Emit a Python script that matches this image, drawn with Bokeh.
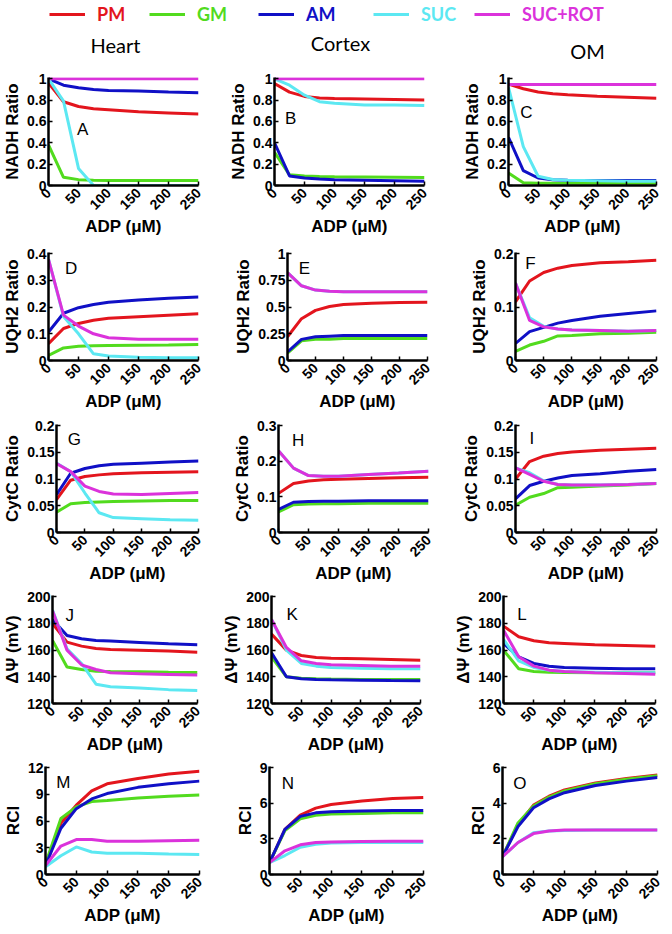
import math
from bokeh.plotting import figure
from bokeh.models import (FixedTicker, CustomJSTickFormatter, Range1d, Legend,
                          LegendItem, Label, ColumnDataSource)
from bokeh.layouts import column, row
from bokeh.embed import file_html
from bokeh.resources import INLINE

# ---------------- data ----------------
adp = [0, 25, 50, 75, 100, 150, 200, 250]
series = ["PM", "GM", "AM", "SUC", "SUC+ROT"]
colors = ["#E3151D", "#52DB1E", "#1010C6", "#5CE8F2", "#DB32DB"]
tissues = ["Heart", "Cortex", "OM"]
quantities = ["NADH Ratio", "UQH2 Ratio", "CytC Ratio", "ΔΨ (mV)", "RCI"]
letters = list("ABCDEFGHIJKLMNO")
x_ticks = [0, 50, 100, 150, 200, 250]

nadh_heart = {
    "PM":      [0.96, 0.785, 0.74, 0.72, 0.71, 0.69, 0.68, 0.67],
    "GM":      [0.38, 0.077, 0.055, 0.05, 0.048, 0.047, 0.047, 0.047],
    "AM":      [1.0, 0.94, 0.915, 0.90, 0.89, 0.885, 0.877, 0.87],
    "SUC":     [1.0, 0.79, 0.16, 0.0, 0.0, 0.0, 0.0, 0.0],
    "SUC+ROT": [1.0, 1.0, 1.0, 1.0, 1.0, 1.0, 1.0, 1.0],
}
nadh_cortex = {
    "PM":      [0.955, 0.875, 0.835, 0.82, 0.815, 0.81, 0.805, 0.80],
    "GM":      [0.31, 0.10, 0.09, 0.085, 0.082, 0.08, 0.078, 0.076],
    "AM":      [0.40, 0.09, 0.07, 0.06, 0.055, 0.05, 0.045, 0.04],
    "SUC":     [1.0, 0.94, 0.846, 0.785, 0.77, 0.755, 0.755, 0.75],
    "SUC+ROT": [1.0, 1.0, 1.0, 1.0, 1.0, 1.0, 1.0, 1.0],
}
nadh_om = {
    "PM":      [0.95, 0.907, 0.876, 0.86, 0.85, 0.836, 0.827, 0.817],
    "GM":      [0.118, 0.025, 0.02, 0.02, 0.02, 0.02, 0.02, 0.02],
    "AM":      [0.452, 0.14, 0.07, 0.053, 0.05, 0.048, 0.047, 0.046],
    "SUC":     [0.92, 0.365, 0.087, 0.056, 0.05, 0.045, 0.04, 0.04],
    "SUC+ROT": [0.947, 0.947, 0.947, 0.947, 0.947, 0.947, 0.947, 0.947],
}
uqh2_heart = {
    "PM":      [0.063, 0.12, 0.139, 0.151, 0.158, 0.164, 0.17, 0.175],
    "GM":      [0.019, 0.047, 0.053, 0.055, 0.056, 0.057, 0.058, 0.06],
    "AM":      [0.107, 0.177, 0.198, 0.21, 0.218, 0.227, 0.233, 0.238],
    "SUC":     [0.38, 0.165, 0.10, 0.025, 0.017, 0.012, 0.01, 0.01],
    "SUC+ROT": [0.379, 0.17, 0.129, 0.10, 0.085, 0.08, 0.08, 0.08],
}
uqh2_cortex = {
    "PM":      [0.222, 0.392, 0.47, 0.506, 0.525, 0.537, 0.543, 0.546],
    "GM":      [0.07, 0.185, 0.198, 0.20, 0.205, 0.205, 0.205, 0.205],
    "AM":      [0.08, 0.198, 0.222, 0.228, 0.234, 0.234, 0.234, 0.234],
    "SUC":     [0.824, 0.70, 0.66, 0.648, 0.645, 0.645, 0.645, 0.645],
    "SUC+ROT": [0.824, 0.70, 0.66, 0.648, 0.645, 0.645, 0.645, 0.645],
}
uqh2_om = {
    "PM":      [0.11, 0.149, 0.165, 0.173, 0.178, 0.183, 0.185, 0.188],
    "GM":      [0.017, 0.029, 0.036, 0.046, 0.047, 0.05, 0.051, 0.053],
    "AM":      [0.032, 0.054, 0.062, 0.07, 0.075, 0.083, 0.088, 0.093],
    "SUC":     [0.145, 0.08, 0.064, 0.059, 0.057, 0.056, 0.055, 0.056],
    "SUC+ROT": [0.145, 0.075, 0.063, 0.059, 0.057, 0.056, 0.055, 0.056],
}
cytc_heart = {
    "PM":      [0.0615, 0.098, 0.105, 0.108, 0.11, 0.112, 0.113, 0.114],
    "GM":      [0.038, 0.054, 0.056, 0.057, 0.058, 0.059, 0.06, 0.06],
    "AM":      [0.071, 0.111, 0.12, 0.125, 0.128, 0.13, 0.132, 0.134],
    "SUC":     [0.13, 0.114, 0.074, 0.037, 0.028, 0.026, 0.024, 0.023],
    "SUC+ROT": [0.129, 0.114, 0.087, 0.077, 0.072, 0.071, 0.073, 0.075],
}
cytc_cortex = {
    "PM":      [0.11, 0.138, 0.145, 0.148, 0.15, 0.152, 0.154, 0.155],
    "GM":      [0.058, 0.078, 0.08, 0.081, 0.081, 0.082, 0.082, 0.082],
    "AM":      [0.065, 0.085, 0.087, 0.088, 0.088, 0.089, 0.089, 0.089],
    "SUC":     [0.23, 0.181, 0.16, 0.158, 0.158, 0.163, 0.167, 0.172],
    "SUC+ROT": [0.23, 0.181, 0.16, 0.158, 0.158, 0.163, 0.167, 0.172],
}
cytc_om = {
    "PM":      [0.10, 0.133, 0.143, 0.148, 0.151, 0.154, 0.156, 0.158],
    "GM":      [0.051, 0.066, 0.073, 0.084, 0.085, 0.087, 0.089, 0.092],
    "AM":      [0.063, 0.088, 0.096, 0.102, 0.107, 0.11, 0.115, 0.118],
    "SUC":     [0.121, 0.112, 0.097, 0.09, 0.089, 0.089, 0.09, 0.092],
    "SUC+ROT": [0.121, 0.109, 0.096, 0.09, 0.089, 0.089, 0.09, 0.092],
}
psi_heart = {
    "PM":      [180, 166, 163, 161.2, 160.5, 160, 159.3, 158.5],
    "GM":      [167.3, 147.4, 145.5, 144.2, 144, 143.8, 143.5, 143.3],
    "AM":      [183, 171, 168.5, 167.3, 166.8, 165.8, 164.8, 164],
    "SUC":     [190, 161, 150, 134.5, 132.6, 131.6, 130.4, 129.7],
    "SUC+ROT": [189.6, 160, 149, 145.5, 143, 142.3, 141.8, 141.3],
}
psi_cortex = {
    "PM":      [172, 160, 156, 154.5, 154, 153.5, 153, 152.5],
    "GM":      [155, 140, 139, 138.5, 138.3, 138, 138, 138],
    "AM":      [158, 140, 138.5, 138, 137.8, 137.5, 137.2, 137],
    "SUC":     [183, 160, 150, 148, 147, 146.5, 146, 146],
    "SUC+ROT": [183, 162, 152, 150, 149, 148.5, 148, 148],
}
psi_om = {
    "PM":      [178, 170, 167, 165.5, 165, 164, 163.5, 163],
    "GM":      [160, 146, 144, 143.5, 143.3, 143, 143, 143],
    "AM":      [165, 155, 150, 148, 147, 146.5, 146, 146],
    "SUC":     [168, 152, 147, 145, 144, 143.5, 143, 143],
    "SUC+ROT": [175, 155, 148, 145, 144, 143, 142.5, 142],
}
rci_heart = {
    "PM":      [0.99, 5.76, 7.8, 9.4, 10.2, 10.8, 11.3, 11.6],
    "GM":      [1.2, 6.3, 7.6, 8.2, 8.33, 8.6, 8.8, 8.95],
    "AM":      [1.0, 5.2, 7.4, 8.5, 9.1, 9.8, 10.2, 10.5],
    "SUC":     [0.88, 2.1, 3.1, 2.53, 2.4, 2.4, 2.3, 2.24],
    "SUC+ROT": [1.0, 3.2, 3.93, 3.93, 3.74, 3.74, 3.8, 3.85],
}
rci_cortex = {
    "PM":      [1.0, 3.8, 5.0, 5.6, 5.9, 6.2, 6.4, 6.5],
    "GM":      [1.0, 3.7, 4.7, 5.0, 5.1, 5.15, 5.2, 5.2],
    "AM":      [1.0, 3.8, 4.9, 5.2, 5.3, 5.35, 5.4, 5.4],
    "SUC":     [1.0, 1.6, 2.3, 2.55, 2.65, 2.7, 2.7, 2.7],
    "SUC+ROT": [1.0, 2.0, 2.5, 2.7, 2.75, 2.78, 2.8, 2.8],
}
rci_om = {
    "PM":      [1.0, 2.8, 3.9, 4.4, 4.75, 5.15, 5.4, 5.6],
    "GM":      [1.0, 2.9, 3.85, 4.35, 4.7, 5.1, 5.35, 5.55],
    "AM":      [1.0, 2.7, 3.75, 4.25, 4.6, 5.0, 5.25, 5.45],
    "SUC":     [1.0, 1.8, 2.35, 2.45, 2.48, 2.5, 2.5, 2.5],
    "SUC+ROT": [1.0, 1.8, 2.3, 2.45, 2.5, 2.5, 2.5, 2.5],
}

panel_data = [
    [nadh_heart, nadh_cortex, nadh_om],
    [uqh2_heart, uqh2_cortex, uqh2_om],
    [cytc_heart, cytc_cortex, cytc_om],
    [psi_heart, psi_cortex, psi_om],
    [rci_heart, rci_cortex, rci_om],
]
y_ticks = [
    [[0, 0.2, 0.4, 0.6, 0.8, 1]] * 3,
    [[0, 0.1, 0.2, 0.3, 0.4], [0, 0.25, 0.5, 0.75, 1], [0, 0.1, 0.2]],
    [[0, 0.05, 0.1, 0.15, 0.2], [0, 0.1, 0.2, 0.3], [0, 0.05, 0.1, 0.15, 0.2]],
    [[120, 140, 160, 180, 200]] * 3,
    [[0, 3, 6, 9, 12], [0, 3, 6, 9], [0, 2, 4, 6]],
]

# ---------------- layout / style ----------------
FONT = "Liberation Sans"
frame_h = 108
HDR_H = 63
# (left border, frame width, right border) per panel
cols_geom = [
    [(40, 150, 10), (66, 150, 10), (74, 148, 8)],
    [(40, 150, 10), (79, 140, 10), (78, 141, 8)],
    [(48, 142, 10), (70, 150, 10), (77, 141, 8)],
    [(44, 145, 11), (63, 149, 10), (73, 152, 9)],
    [(35, 154, 11), (59, 154, 10), (69, 155, 9)],
]
# (top border, bottom border) per row
rows_geom = [(14, 58), (9, 55), (9, 53), (9, 53), (9, 53)]
# letter position as fraction of frame (from left, from top)
letter_pos = [
    [(0.19, 0.39), (0.07, 0.28), (0.08, 0.23)],
    [(0.11, 0.05), (0.08, 0.05), (0.07, 0.0)],
    [(0.08, 0.04), (0.09, 0.05), (0.10, 0.03)],
    [(0.09, 0.09), (0.10, 0.08), (0.09, 0.08)],
    [(0.07, 0.05), (0.08, 0.06), (0.07, 0.06)],
]
# header: title centers (x, y from top) and legend x positions, in header pixels
title_pos = [(115, 44), (340, 42), (587, 50)]
legend_x = [49, 149, 258, 373, 474]

fmt = CustomJSTickFormatter(code="return String(Math.round(tick*1000)/1000);")

rows = []
for ri in range(5):
    figs = []
    T, B = rows_geom[ri]
    for ci in range(3):
        L, W, R = cols_geom[ri][ci]
        ticks = y_ticks[ri][ci]
        y0, y1 = ticks[0], ticks[-1]
        pad = (y1 - y0) * 0.012
        p = figure(frame_width=W, frame_height=frame_h,
                   min_border_left=L, min_border_right=R,
                   min_border_top=T, min_border_bottom=B,
                   x_range=Range1d(0, 250), y_range=Range1d(y0, y1 + pad),
                   output_backend="svg", toolbar_location=None)
        p.outline_line_color = None
        p.xgrid.visible = False
        p.ygrid.visible = False
        p.background_fill_color = "white"
        p.border_fill_color = "white"
        p.xaxis.ticker = FixedTicker(ticks=x_ticks)
        p.yaxis.ticker = FixedTicker(ticks=ticks)
        p.xaxis.formatter = fmt
        p.yaxis.formatter = fmt
        p.xaxis.axis_label = "ADP (μM)"
        p.yaxis.axis_label = quantities[ri]
        p.xaxis.major_label_orientation = math.pi / 4
        for ax in (p.xaxis[0], p.yaxis[0]):
            ax.axis_line_width = 2.5
            ax.axis_line_color = "black"
            ax.major_tick_in = 4
            ax.major_tick_out = 0
            ax.major_tick_line_width = 1.5
            ax.minor_tick_line_color = None
            ax.major_label_text_font = FONT
            ax.major_label_text_font_style = "bold"
            ax.major_label_text_font_size = "14px"
            ax.major_label_text_color = "black"
            ax.axis_label_text_font = FONT
            ax.axis_label_text_font_style = "bold"
            ax.axis_label_text_font_size = "17px"
            ax.axis_label_text_color = "black"
            ax.axis_label_standoff = 2
            ax.major_label_standoff = 2
        p.xaxis.major_label_standoff = 5
        p.xaxis.axis_label_standoff = 0
        d = panel_data[ri][ci]
        for name, col in zip(series, colors):
            src = ColumnDataSource(dict(x=adp, y=d[name]))
            p.line("x", "y", source=src, line_color=col, line_width=3)
        fx, fy = letter_pos[ri][ci]
        p.add_layout(Label(x=250 * fx, y=y1 - (y1 - y0) * fy,
                           text=letters[ri * 3 + ci], text_font=FONT,
                           text_font_size="17px", text_baseline="top",
                           text_align="left", text_color="black"))
        figs.append(p)
    rows.append(row(*figs))

# ---------------- header: legend + column titles ----------------
hdr = figure(width=656, height=HDR_H, x_range=Range1d(0, 656), y_range=Range1d(0, HDR_H),
             x_axis_type=None, y_axis_type=None, min_border=0,
             output_backend="svg", toolbar_location=None)
hdr.outline_line_color = None
hdr.xgrid.visible = False
hdr.ygrid.visible = False
for name, col, lx in zip(series, colors, legend_x):
    r = hdr.line(x=[float("nan"), float("nan")], y=[float("nan"), float("nan")],
                 line_color=col, line_width=3)
    leg = Legend(items=[LegendItem(label=name, renderers=[r])], location=(lx, HDR_H - 25),
                 label_text_color=col, label_text_font="Lato",
                 label_text_font_style="bold", label_text_font_size="18px",
                 glyph_width=36, glyph_height=20, label_standoff=12,
                 label_height=20,
                 padding=0, margin=0, spacing=0,
                 border_line_alpha=0, background_fill_alpha=0)
    hdr.add_layout(leg, "center")
for name, (tx, ty) in zip(tissues, title_pos):
    hdr.add_layout(Label(x=tx, y=HDR_H - ty, text=name, text_align="center",
                         text_baseline="middle", text_font="Lato",
                         text_font_size="20px", text_color="black"))

layout = column(hdr, *rows)
open("out.html", "w").write(file_html(layout, INLINE))
